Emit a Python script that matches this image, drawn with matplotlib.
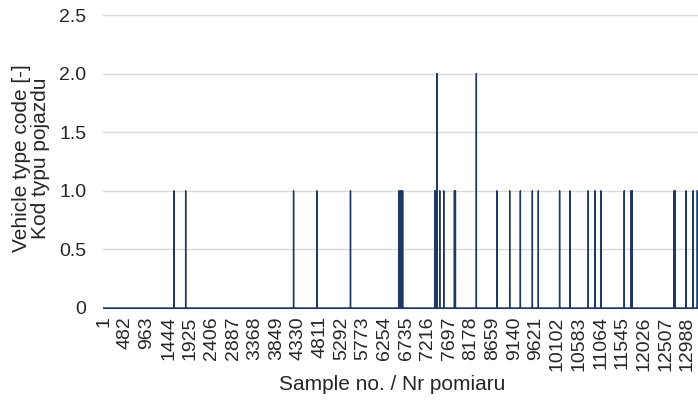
import numpy as np
import matplotlib
matplotlib.use("Agg")
import matplotlib.pyplot as plt

plt.rcParams['font.family'] = ['Liberation Sans', 'DejaVu Sans']

# number of samples in the record
n_samples = 13230

# samples where a vehicle was detected, and the code read there
spike_samples = [1565, 1825, 4227, 4745, 5494,
                 6567, 6600, 6622, 6655,
                 7369, 7400, 7422, 7481, 7570, 7808, 7830, 8296,
                 8753, 9038, 9276, 9543, 9676, 10149, 10380,
                 10787, 10936, 11069, 11588, 11737, 11766,
                 12700, 12722, 12960, 13122, 13215]
spike_codes = [1, 1, 1, 1, 1,
               1, 1, 1, 1,
               1, 1, 2, 1, 1, 1, 1, 2,
               1, 1, 1, 1, 1, 1, 1,
               1, 1, 1, 1, 1, 1,
               1, 1, 1, 1, 1]

x_ticks = list(range(1, 13000, 481))
y_ticks = [0, 0.5, 1.0, 1.5, 2.0, 2.5]
y_labels = ['0', '0.5', '1.0', '1.5', '2.0', '2.5']

samples = np.arange(1, n_samples + 1)
codes = np.zeros(n_samples)
codes[np.array(spike_samples) - 1] = spike_codes

fig = plt.figure(figsize=(6.98, 4.03), dpi=100)
ax = fig.add_axes([103 / 698, 1 - 308 / 403, 1 - 103 / 698, (308 - 15) / 403])

ax.plot(samples, codes, color='#1F3864', lw=1.0, zorder=3)

ax.set_xlim(-15, n_samples)
ax.set_ylim(0, 2.5)
ax.set_yticks(y_ticks)
ax.set_yticklabels(y_labels)
ax.set_xticks(x_ticks)
ax.set_xticklabels([str(t) for t in x_ticks], rotation=90)

ax.grid(axis='y', color='#d9d9d9', lw=1)
ax.set_axisbelow(True)
for s in ['top', 'right', 'left']:
    ax.spines[s].set_visible(False)
ax.spines['bottom'].set_color('#1F3864')
ax.tick_params(axis='both', length=0, labelsize=14, colors='#262626')
ax.tick_params(axis='y', pad=12)
ax.tick_params(axis='x', pad=6)

fig.text(31 / 698, 1 - 158 / 403, 'Vehicle type code [-]\nKod typu pojazdu',
         rotation=90, ha='center', va='center', fontsize=15, color='#262626',
         linespacing=0.95)
fig.text(392 / 698, 1 - 385 / 403, 'Sample no. / Nr pomiaru',
         ha='center', va='center', fontsize=15, color='#262626')

fig.savefig('out.png', dpi=100)
